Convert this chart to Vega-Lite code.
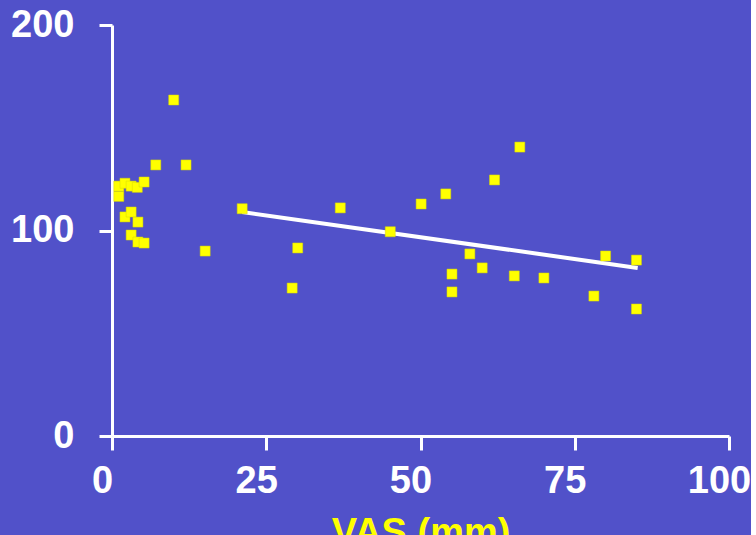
{
  "$schema": "https://vega.github.io/schema/vega-lite/v6.json",
  "width": 617,
  "height": 411,
  "padding": {"left": 10, "top": 6, "right": 0, "bottom": 0},
  "background": "#5151c9",
  "config": {
    "view": {"stroke": null},
    "font": "Liberation Sans"
  },
  "datasets": {
    "points": [
      {"vas": 10.0, "value": 163.5},
      {"vas": 7.1, "value": 131.9},
      {"vas": 12.0, "value": 131.9},
      {"vas": 1.1, "value": 116.6},
      {"vas": 1.1, "value": 121.6},
      {"vas": 2.1, "value": 123.0},
      {"vas": 3.1, "value": 121.6},
      {"vas": 4.1, "value": 121.0},
      {"vas": 5.2, "value": 123.6},
      {"vas": 2.1, "value": 106.6},
      {"vas": 3.1, "value": 109.0},
      {"vas": 4.2, "value": 104.1},
      {"vas": 3.1, "value": 97.8},
      {"vas": 4.2, "value": 94.4},
      {"vas": 5.2, "value": 93.9},
      {"vas": 15.1, "value": 90.0},
      {"vas": 21.1, "value": 110.6},
      {"vas": 29.2, "value": 72.0},
      {"vas": 30.1, "value": 91.5},
      {"vas": 37.0, "value": 111.0},
      {"vas": 45.1, "value": 99.4},
      {"vas": 50.1, "value": 112.9},
      {"vas": 54.1, "value": 117.8},
      {"vas": 55.1, "value": 78.8},
      {"vas": 55.1, "value": 70.1},
      {"vas": 58.0, "value": 88.6},
      {"vas": 60.0, "value": 81.8},
      {"vas": 62.0, "value": 124.6},
      {"vas": 65.2, "value": 77.9},
      {"vas": 66.1, "value": 140.6},
      {"vas": 70.0, "value": 76.9},
      {"vas": 78.1, "value": 68.1},
      {"vas": 80.0, "value": 87.6},
      {"vas": 85.0, "value": 85.6},
      {"vas": 85.0, "value": 61.8}
    ],
    "fit": [
      {"vas": 21.1, "value": 109.0},
      {"vas": 85.2, "value": 81.8}
    ]
  },
  "layer": [
    {
      "data": {"name": "fit"},
      "mark": {"type": "line", "color": "#ffffff", "strokeWidth": 4},
      "encoding": {
        "x": {"field": "vas", "type": "quantitative"},
        "y": {"field": "value", "type": "quantitative"}
      }
    },
    {
      "data": {"name": "points"},
      "mark": {"type": "square", "size": 100, "filled": true, "color": "#ffff00", "stroke": "#d8d800", "strokeWidth": 0.5, "opacity": 1},
      "encoding": {
        "x": {
          "field": "vas",
          "type": "quantitative",
          "scale": {"domain": [0, 100], "nice": false, "zero": true},
          "axis": {
            "values": [0, 25, 50, 75, 100],
            "grid": false,
            "domainColor": "#ffffff",
            "domainWidth": 3,
            "tickColor": "#ffffff",
            "tickWidth": 3,
            "tickSize": 14,
            "labelColor": "#ffffff",
            "labelFont": "Liberation Sans",
            "labelFontSize": 38,
            "labelFontWeight": "bold",
            "labelOffset": -10,
            "labelPadding": 12,
            "labelFlush": false,
            "labelOverlap": false,
            "title": "VAS (mm)",
            "titleColor": "#ffff00",
            "titleFont": "Liberation Sans",
            "titleFontSize": 38,
            "titleFontWeight": "bold",
            "titlePadding": 14
          }
        },
        "y": {
          "field": "value",
          "type": "quantitative",
          "scale": {"domain": [0, 200], "nice": false},
          "axis": {
            "values": [0, 100, 200],
            "grid": false,
            "domainColor": "#ffffff",
            "domainWidth": 3,
            "tickColor": "#ffffff",
            "tickWidth": 3,
            "tickSize": 13,
            "labelColor": "#ffffff",
            "labelFont": "Liberation Sans",
            "labelFontSize": 38,
            "labelFontWeight": "bold",
            "labelPadding": 25,
            "labelFlush": false,
            "labelOverlap": false,
            "title": null
          }
        }
      }
    }
  ]
}
